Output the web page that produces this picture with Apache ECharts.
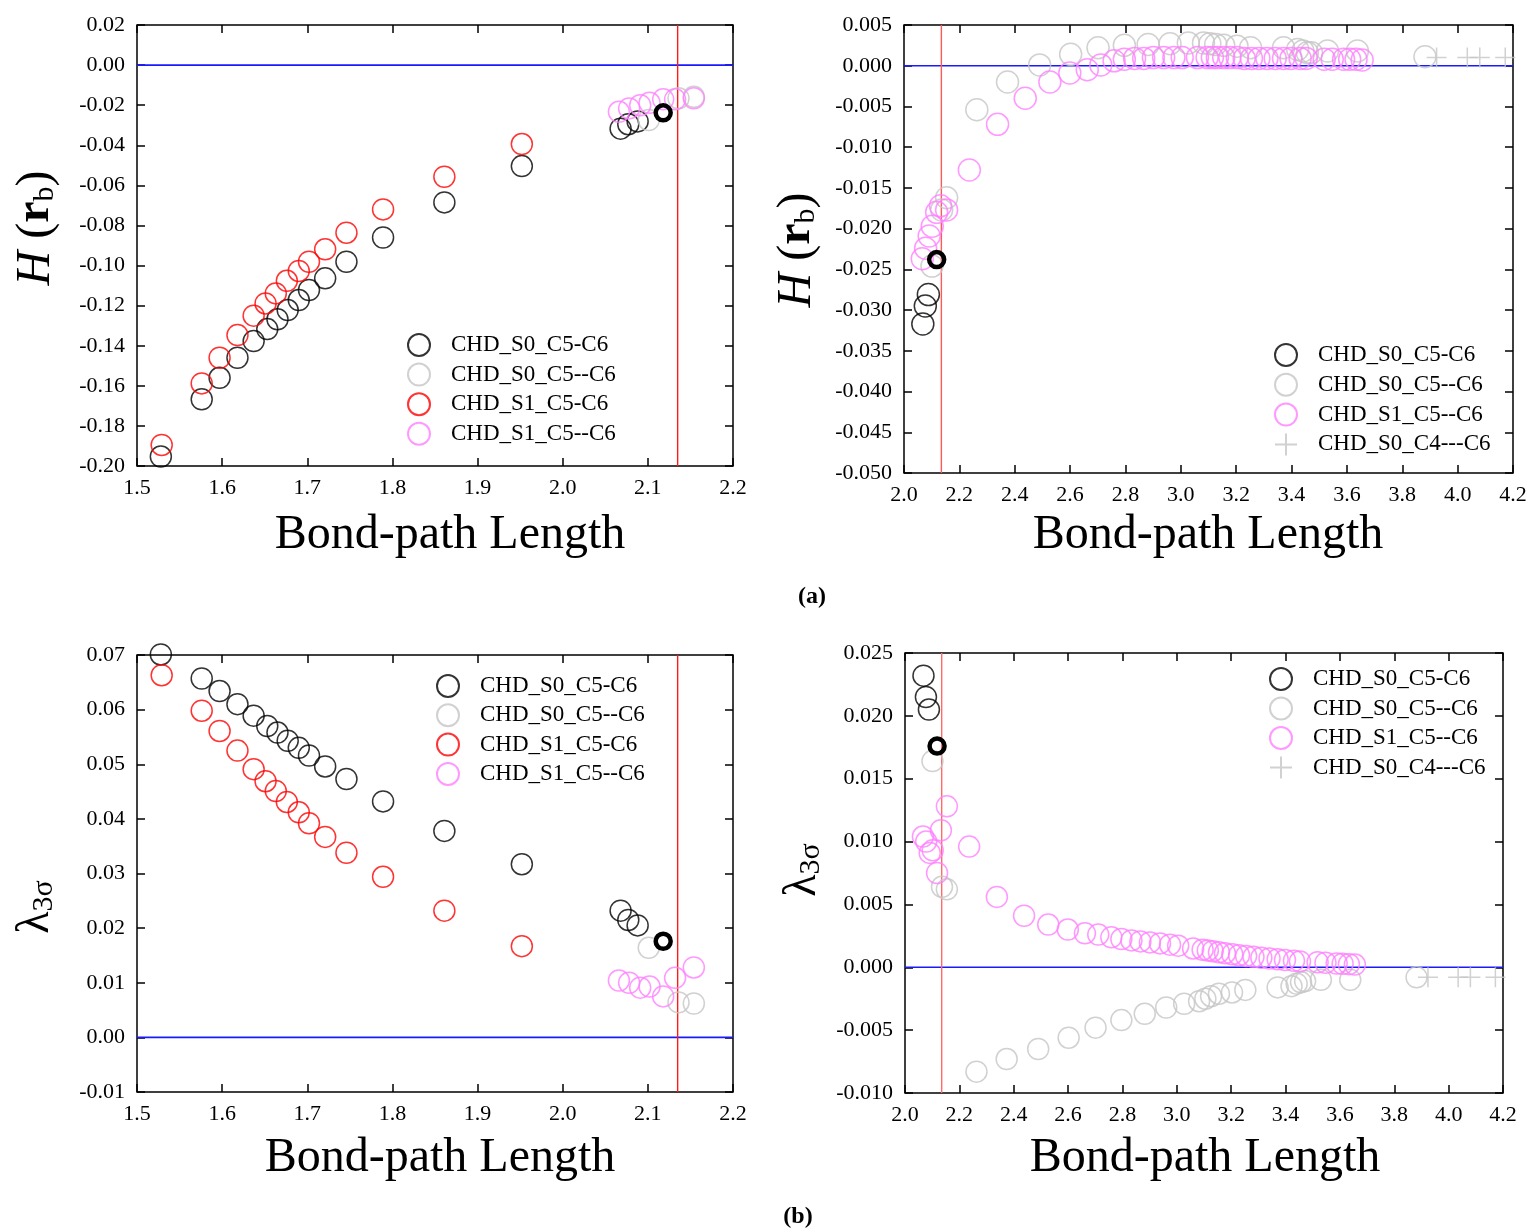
<!DOCTYPE html>
<html><head><meta charset="utf-8">
<script src="https://cdn.jsdelivr.net/npm/echarts@6/dist/echarts.min.js"></script>
<style>html,body{margin:0;padding:0;background:#fff}#c{width:1533px;height:1232px}</style>
</head><body><div id="c"></div>
<script>
// ---------- DATA ----------
const blackLen = [1.528, 1.576, 1.597, 1.618, 1.637, 1.653, 1.665, 1.677, 1.690, 1.702, 1.721, 1.746, 1.789, 1.861, 1.952, 2.068, 2.077, 2.088];
const blackH   = [-0.1953, -0.1667, -0.1560, -0.1460, -0.1377, -0.1317, -0.1268, -0.1222, -0.1172, -0.1122, -0.1064, -0.0981, -0.0860, -0.0685, -0.0504, -0.0317, -0.0295, -0.0281];
const blackL   = [0.0701, 0.0657, 0.0634, 0.0610, 0.0589, 0.0570, 0.0558, 0.0543, 0.0530, 0.0516, 0.0496, 0.0473, 0.0432, 0.0378, 0.0317, 0.0232, 0.0215, 0.0205];

const redLen = [1.529, 1.576, 1.597, 1.618, 1.637, 1.651, 1.663, 1.676, 1.690, 1.702, 1.721, 1.746, 1.789, 1.861, 1.952];
const redH   = [-0.1895, -0.1588, -0.1460, -0.1347, -0.1250, -0.1189, -0.1139, -0.1076, -0.1027, -0.0981, -0.0919, -0.0836, -0.0720, -0.0557, -0.0394];
const redL   = [0.0663, 0.0598, 0.0561, 0.0525, 0.0491, 0.0469, 0.0451, 0.0431, 0.0412, 0.0392, 0.0367, 0.0338, 0.0294, 0.0232, 0.0167];

const boldLen = [2.118];
const boldH   = [-0.0238];
const boldL   = [0.0176];

const grayLen   = [2.101, 2.136, 2.154, 2.263, 2.374, 2.490, 2.602, 2.701, 2.796, 2.882, 2.961, 3.027, 3.082, 3.105, 3.126, 3.155, 3.203, 3.252, 3.371, 3.422, 3.441, 3.457, 3.472, 3.530, 3.638, 3.882];
const grayH     = [-0.0246, -0.0177, -0.0162, -0.0054, -0.0020, 0.0001, 0.0014, 0.0022, 0.0025, 0.0026, 0.0027, 0.0028, 0.0028, 0.0027, 0.0026, 0.0025, 0.0024, 0.0022, 0.0022, 0.0020, 0.0018, 0.0016, 0.0016, 0.0018, 0.0018, 0.0011];
const grayHLeft = [-0.0274, -0.0166, -0.0158];
const grayL     = [0.0164, 0.0064, 0.0062, -0.0083, -0.0073, -0.0065, -0.0056, -0.0048, -0.0042, -0.0037, -0.0032, -0.0029, -0.0027, -0.0025, -0.0023, -0.0021, -0.0020, -0.0018, -0.0016, -0.0015, -0.0013, -0.0012, -0.0011, -0.0010, -0.0010, -0.0008];

const pinkLen   = [2.066, 2.078, 2.091, 2.102, 2.118, 2.132, 2.154, 2.236, 2.338, 2.438, 2.527, 2.599, 2.662, 2.711, 2.759, 2.796, 2.833, 2.866, 2.901, 2.938, 2.975, 3.005, 3.060, 3.095, 3.114, 3.132, 3.155, 3.177, 3.204, 3.229, 3.255, 3.282, 3.311, 3.341, 3.371, 3.398, 3.431, 3.453, 3.518, 3.547, 3.588, 3.610, 3.633, 3.655];
const pinkH     = [-0.0237, -0.0224, -0.0209, -0.0197, -0.0180, -0.0172, -0.0177, -0.0128, -0.0072, -0.0040, -0.0020, -0.0009, -0.0005, 0.0001,
                   0.0006, 0.0008, 0.0009, 0.0009, 0.0010, 0.0010, 0.0010, 0.0010, 0.0010, 0.0010, 0.0010, 0.0010, 0.0010, 0.0010,
                   0.0010, 0.0009, 0.0009, 0.0009, 0.0009, 0.0009, 0.0009, 0.0009, 0.0009, 0.0009, 0.0008, 0.0008, 0.0008, 0.0008, 0.0008, 0.0007];
const pinkHLeft = [-0.0233, -0.0216, -0.0200, -0.0188, -0.0171, -0.0171, -0.0166];
const pinkL     = [0.0104, 0.0100, 0.0091, 0.0093, 0.0075, 0.0109, 0.0128, 0.0096, 0.0056, 0.0041, 0.0034, 0.0030, 0.0027, 0.0026,
                   0.00238, 0.00225, 0.00214, 0.00206, 0.00198, 0.00190, 0.00180, 0.00172, 0.00150, 0.00140, 0.00134, 0.00128, 0.00120, 0.00112,
                   0.00104, 0.00096, 0.00090, 0.00083, 0.00076, 0.00070, 0.00064, 0.00058, 0.00052, 0.00047, 0.00040, 0.00036, 0.00030, 0.00028, 0.00025, 0.00022];

const crossLen = [3.924, 4.035, 4.080, 4.172];
const crossH   = [0.0010, 0.0010, 0.0010, 0.0010];
const crossL   = [-0.0008, -0.0008, -0.0008, -0.0008];

const zeroLevel = 0;
const cutoffLen = 2.135;

const names = { black: 'CHD_S0_C5-C6', gray: 'CHD_S0_C5--C6', red: 'CHD_S1_C5-C6', pink: 'CHD_S1_C5--C6', cross: 'CHD_S0_C4---C6' };

// ---------- BUILD ----------
const FONT = 'Liberation Serif';
const COL = { black: '#000000', gray: '#c6c6c6', red: '#ff0000', pink: '#ff80ff', cross: '#c6c6c6' };
const zip = (xs, ys) => ys.map((y, i) => [xs[i], y]);

const grids = [
  { left: 137, top: 25, width: 596, height: 441 },
  { left: 904, top: 25, width: 609, height: 448 },
  { left: 137, top: 655, width: 596, height: 437 },
  { left: 905, top: 653, width: 598, height: 440 }
].map(g => Object.assign({ show: true, borderColor: '#000', borderWidth: 1.5, backgroundColor: 'transparent' }, g));

const xSpec = [[1.5, 2.2, 0.1], [2.0, 4.2, 0.2], [1.5, 2.2, 0.1], [2.0, 4.2, 0.2]];
const ySpec = [[-0.20, 0.02, 0.02, 2], [-0.05, 0.005, 0.005, 3], [-0.01, 0.07, 0.01, 2], [-0.01, 0.025, 0.005, 3]];

const tick = { show: true, inside: true, length: 8, lineStyle: { color: '#000', width: 1.5 } };
const xAxes = [], yAxes = [];
[false, true].forEach(sec => {
  xSpec.forEach((s, gi) => xAxes.push({
    type: 'value', gridIndex: gi, min: s[0], max: s[1], interval: s[2], position: sec ? 'top' : 'bottom',
    axisLine: { show: false, onZero: false }, splitLine: { show: false }, axisTick: tick,
    axisLabel: { show: !sec, color: '#000', fontFamily: FONT, fontSize: 22, margin: 11, showMinLabel: true, showMaxLabel: true,
      formatter: v => v.toFixed(1) }
  }));
  ySpec.forEach((s, gi) => yAxes.push({
    type: 'value', gridIndex: gi, min: s[0], max: s[1], interval: s[2], position: sec ? 'right' : 'left',
    axisLine: { show: false, onZero: false }, splitLine: { show: false }, axisTick: tick,
    axisLabel: { show: !sec, color: '#000', fontFamily: FONT, fontSize: 22, margin: 12, showMinLabel: true, showMaxLabel: true,
      formatter: v => (Math.abs(v) < 1e-9 ? 0 : v).toFixed(s[3]) }
  }));
});

function sc(gi, key, data, size, clip) {
  const isCross = key === 'cross';
  return {
    type: 'scatter', name: names[key], xAxisIndex: gi, yAxisIndex: gi, data: data,
    symbol: isCross ? 'path://M0,10L20,10M10,0L10,20' : 'circle', symbolSize: size,
    itemStyle: { color: 'rgba(0,0,0,0)', borderColor: COL[key], borderWidth: 1.5 },
    emphasis: { disabled: true }, silent: true, animation: false, clip: clip
  };
}
function bold(gi, data) {
  return { type: 'scatter', name: 'bold', xAxisIndex: gi, yAxisIndex: gi, data: data, symbol: 'circle', symbolSize: 15,
    itemStyle: { color: 'rgba(0,0,0,0)', borderColor: '#000', borderWidth: 4.5, opacity: 1 }, emphasis: { disabled: true },
    silent: true, animation: false, z: 5 };
}
function refLine(gi, color, data, w) {
  return { type: 'line', name: 'ref', xAxisIndex: gi, yAxisIndex: gi, data: data, silent: true, animation: false,
    symbol: 'none', showSymbol: false, color: color, z: 1,
    lineStyle: { color: color, width: w, type: 'solid', opacity: 1 }, emphasis: { disabled: true } };
}
function refLines(gi, redColor) {
  const xs = xSpec[gi], ys = ySpec[gi];
  return [
    refLine(gi, '#1a1aff', [[xs[0], zeroLevel], [xs[1], zeroLevel]], 1.6),
    refLine(gi, redColor, [[cutoffLen, ys[0]], [cutoffLen, ys[1]]], 1.4)
  ];
}

const series = [
  // TL : H vs length (short range)
  ...refLines(0, '#ff1a1a'),
  sc(0, 'black', zip(blackLen, blackH), 21, false),
  sc(0, 'gray', zip(grayLen, grayHLeft), 21, false),
  sc(0, 'red', zip(redLen, redH), 21, false),
  sc(0, 'pink', zip(pinkLen, pinkHLeft), 21, false),
  bold(0, zip(boldLen, boldH)),
  // TR : H vs length (long range)
  ...refLines(1, '#ff5a5a'),
  sc(1, 'black', zip(blackLen, blackH), 22, true),
  sc(1, 'gray', zip(grayLen, grayH), 22, true),
  sc(1, 'pink', zip(pinkLen, pinkH), 22, true),
  sc(1, 'cross', zip(crossLen, crossH), 20, false),
  bold(1, zip(boldLen, boldH)),
  // BL : lambda vs length (short range)
  ...refLines(2, '#ff1a1a'),
  sc(2, 'black', zip(blackLen, blackL), 21, false),
  sc(2, 'gray', zip(grayLen, grayL.slice(0, 3)), 21, false),
  sc(2, 'red', zip(redLen, redL), 21, false),
  sc(2, 'pink', zip(pinkLen, pinkL.slice(0, 7)), 21, false),
  bold(2, zip(boldLen, boldL)),
  // BR : lambda vs length (long range)
  ...refLines(3, '#ff6a6a'),
  sc(3, 'black', zip(blackLen, blackL), 21, true),
  sc(3, 'gray', zip(grayLen, grayL), 21, true),
  sc(3, 'pink', zip(pinkLen, pinkL), 21, true),
  sc(3, 'cross', zip(crossLen, crossL), 20, false),
  bold(3, zip(boldLen, boldL))
];

function leg(left, top, gap, keys) {
  return { left: left, top: top, orient: 'vertical', itemWidth: 22, itemHeight: 22, itemGap: gap, padding: 0,
    data: keys.map(k => names[k]), selectedMode: false,
    textStyle: { fontFamily: FONT, fontSize: 23, color: '#000', padding: [0, 0, 0, 16] } };
}
const legends = [
  leg(407, 333, 5.6, ['black', 'gray', 'red', 'pink']),
  leg(1274, 343, 5.8, ['black', 'gray', 'pink', 'cross']),
  leg(436, 674, 5.3, ['black', 'gray', 'red', 'pink']),
  leg(1269, 667, 5.5, ['black', 'gray', 'pink', 'cross'])
];

function txt(x, y, text, size, weight) {
  return { type: 'text', x: x, y: y, style: { text: text, fontFamily: FONT, fontSize: size, fontWeight: weight || 'normal',
    fill: '#000', align: 'center', verticalAlign: 'middle' } };
}
const hRich = {
  i: { fontFamily: FONT, fontSize: 48, fontStyle: 'italic', fill: '#000', padding: [0, 12, 0, 0] },
  n: { fontFamily: FONT, fontSize: 48, fill: '#000' },
  b: { fontFamily: FONT, fontSize: 48, fontWeight: 'bold', fill: '#000' },
  s: { fontFamily: FONT, fontSize: 30, fill: '#000', verticalAlign: 'bottom', padding: [14, 0, 0, 0] }
};
const lRich = {
  l: { fontFamily: FONT, fontSize: 46, fill: '#000' },
  s: { fontFamily: FONT, fontSize: 30, fill: '#000', verticalAlign: 'bottom', padding: [16, 0, 0, 0] }
};
function rotTxt(x, y, text, rich) {
  return { type: 'text', x: x, y: y, rotation: Math.PI / 2,
    style: { text: text, rich: rich, align: 'center', verticalAlign: 'middle' } };
}

const graphics = [
  txt(450, 535, 'Bond-path Length', 48),
  txt(1208, 535, 'Bond-path Length', 48),
  txt(440, 1158, 'Bond-path Length', 48),
  txt(1205, 1158, 'Bond-path Length', 48),
  txt(812, 597, '(a)', 24, 'bold'),
  txt(798, 1217, '(b)', 24, 'bold'),
  rotTxt(36, 228, '{i|H}{n|(}{b|r}{s|b}{n|)}', hRich),
  rotTxt(797, 250, '{i|H}{n|(}{b|r}{s|b}{n|)}', hRich),
  rotTxt(36, 907, '{l|λ}{s|3σ}', lRich),
  rotTxt(803, 870, '{l|λ}{s|3σ}', lRich)
];

const chart = echarts.init(document.getElementById('c'), null, { renderer: 'canvas' });
chart.setOption({
  backgroundColor: '#fff', animation: false,
  grid: grids, xAxis: xAxes, yAxis: yAxes, series: series, legend: legends, graphic: graphics
});
</script></body></html>
